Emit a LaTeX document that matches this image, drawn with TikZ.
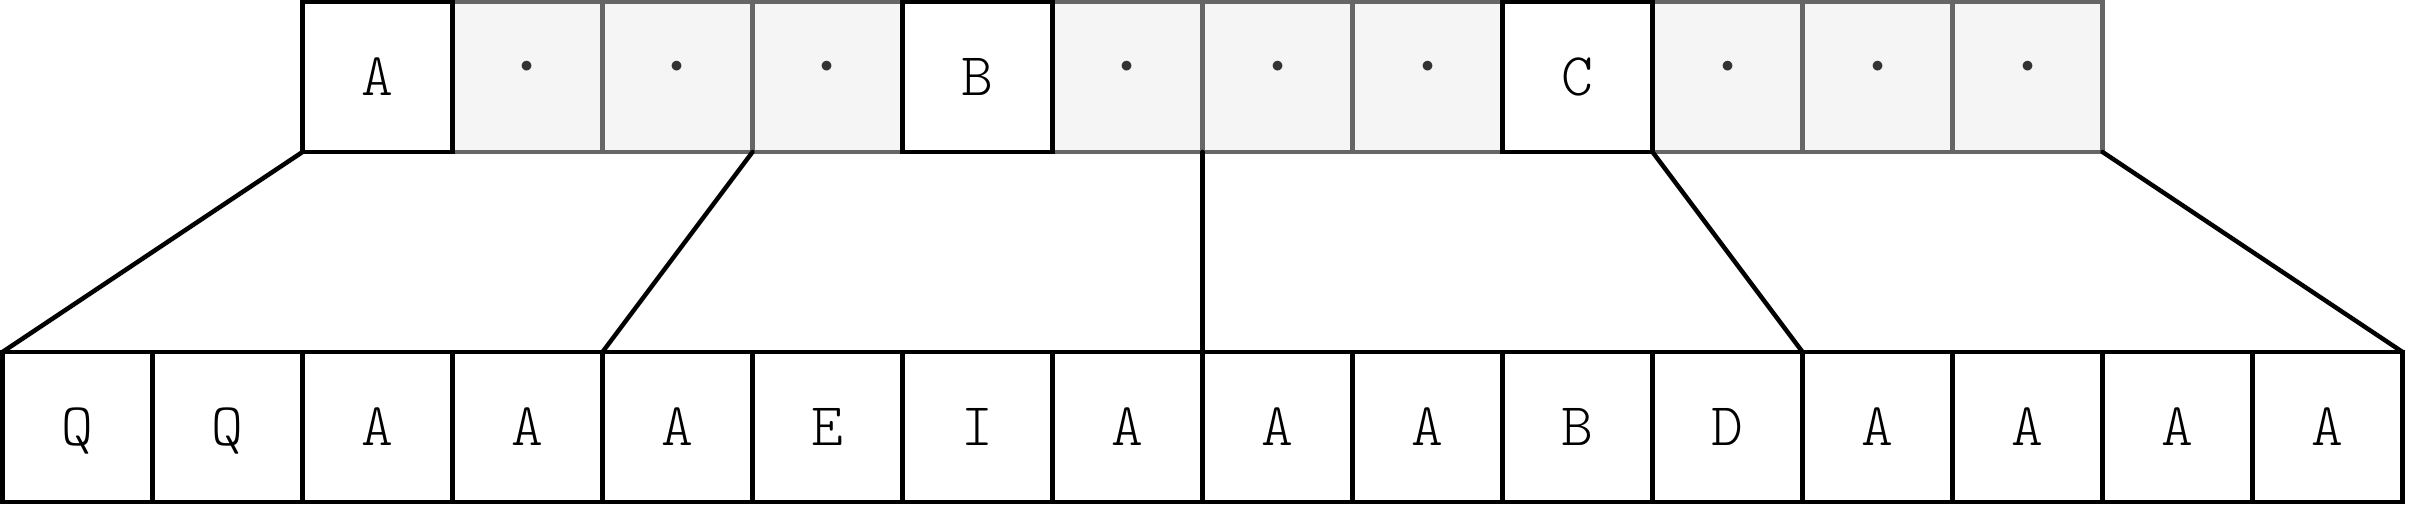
\documentclass[tikz,border=0pt]{standalone}
\usepackage{fontspec}
\setmonofont{lmmonolt10-regular.otf}
\usepackage{tikz}

\begin{document}
\begin{tikzpicture}[x=1cm,y=1cm,line width=0.85pt]
 \tikzstyle{every node}=[font=\fontsize{11.5}{13}\selectfont\ttfamily,minimum size=1cm,
  inner sep=0pt,outer sep=0pt,text depth=0pt]
 \tikzstyle{key}=[draw=black,fill=white]
 \tikzstyle{skip}=[draw=black!60,fill=black!4,text=black!80,font=\fontsize{17}{18}\selectfont\ttfamily]
 \tikzstyle{cell}=[draw=black,fill=white]
 \useasboundingbox (-0.0167,-0.02) rectangle (16.05,3.3467);
 % skipped cells of the upper row
 \foreach \k in {1,2,3,5,6,7,9,10,11}
  \node[skip] (t\k) at (2.5+\k,2.8333) {·};
 % kept cells of the upper row
 \foreach \k/\c in {0/A,4/B,8/C}
  \node[key] (t\k) at (2.5+\k,2.8333) {\c};
 % lower row
 \foreach \c [count=\i from 0] in {Q,Q,A,A,A,E,I,A,A,A,B,D,A,A,A,A}
  \node[cell] (b\i) at (0.5+\i,0.5) {\c};
 \path[draw,line cap=round]
 (t0.south west) edge (b0.north west)
 (t2.south east) edge (b3.north east)
 (t5.south east) edge (b7.north east)
 (t8.south east) edge (b11.north east)
 (t11.south east) edge (b15.north east)
 ;
\end{tikzpicture}
\end{document}
